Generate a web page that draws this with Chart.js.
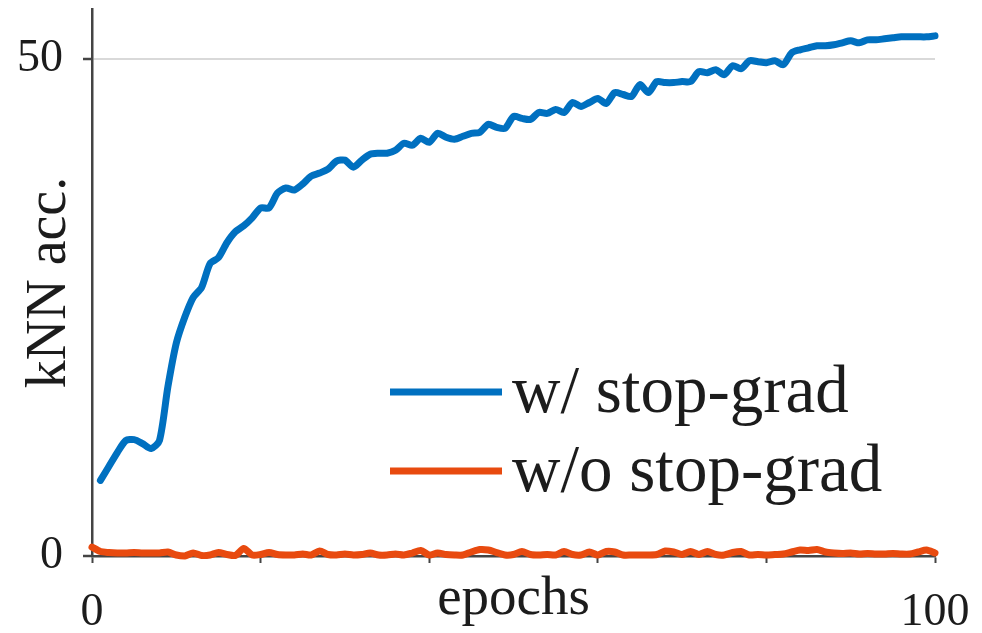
<!DOCTYPE html>
<html>
<head>
<meta charset="utf-8">
<script src="https://cdn.jsdelivr.net/npm/chart.js@4.4.1/dist/chart.umd.min.js"></script>
<style>
  html, body { margin: 0; padding: 0; background: #ffffff; }
  #wrap { width: 982px; height: 633px; position: relative; }
</style>
</head>
<body>
<div id="wrap"><canvas id="knnChart"></canvas></div>
<script>
// kNN accuracy per epoch
const stopGradEpochs = Array.from({ length: 100 }, (_, i) => i + 1)
const stopGradAcc = [
  7.6, 9.0, 10.4, 11.6, 11.7, 11.3, 10.8, 11.6, 17.0, 21.4,
  24.0, 26.0, 27.0, 29.4, 30.0, 31.5, 32.6, 33.2, 34.0, 35.0,
  35.0, 36.5, 37.0, 36.8, 37.4, 38.2, 38.5, 38.9, 39.7, 39.8,
  39.1, 39.8, 40.4, 40.5, 40.5, 40.8, 41.5, 41.3, 42.0, 41.6,
  42.5, 42.1, 41.9, 42.2, 42.5, 42.6, 43.4, 43.1, 43.0, 44.2,
  44.0, 43.9, 44.6, 44.5, 44.9, 44.6, 45.6, 45.2, 45.6, 46.0,
  45.5, 46.6, 46.4, 46.2, 47.4, 46.6, 47.7, 47.6, 47.6, 47.7,
  47.7, 48.7, 48.6, 48.9, 48.4, 49.3, 49.0, 49.8, 49.7, 49.6,
  49.8, 49.4, 50.6, 50.9, 51.1, 51.3, 51.3, 51.4, 51.6, 51.8,
  51.6, 51.9, 51.9, 52.0, 52.1, 52.2, 52.2, 52.2, 52.2, 52.3
]
const noStopGradEpochs = Array.from({ length: 101 }, (_, i) => i)
const noStopGradAcc = [
  0.9, 0.45, 0.35, 0.3, 0.3, 0.35, 0.3, 0.3, 0.3, 0.4,
  0.1, 0.0, 0.3, 0.05, 0.1, 0.35, 0.15, 0.05, 0.75, 0.1,
  0.15, 0.35, 0.15, 0.1, 0.1, 0.2, 0.1, 0.5, 0.15, 0.1,
  0.2, 0.1, 0.15, 0.3, 0.1, 0.1, 0.2, 0.1, 0.3, 0.55,
  0.1, 0.3, 0.15, 0.1, 0.1, 0.4, 0.65, 0.6, 0.35, 0.1,
  0.15, 0.45, 0.15, 0.1, 0.15, 0.1, 0.45, 0.15, 0.1, 0.4,
  0.1, 0.45, 0.4, 0.1, 0.1, 0.1, 0.1, 0.15, 0.5, 0.4,
  0.15, 0.45, 0.15, 0.45, 0.15, 0.1, 0.35, 0.45, 0.1, 0.15,
  0.1, 0.15, 0.2, 0.4, 0.6, 0.55, 0.65, 0.4, 0.3, 0.25,
  0.3, 0.2, 0.25, 0.2, 0.2, 0.25, 0.2, 0.2, 0.4, 0.6,
  0.3
]
const seriesLabels = ["w/ stop-grad", "w/o stop-grad"]
const xTickLabels = [0, 100]
const yTickValues = [0, 50]

const serif = "'Liberation Serif', 'Times New Roman', serif"
const textColor = "#1c1c1c"
const axisColor = "#444444"

const toPoints = (xs, ys) => xs.map((x, i) => ({ x: x, y: ys[i] }))

// legend drawn inside the plot, lower right
const insideLegend = {
  id: "insideLegend",
  afterDraw(chart) {
    const ctx = chart.ctx
    const rows = [392, 471]
    ctx.save()
    chart.data.datasets.forEach((ds, i) => {
      const y = rows[i]
      ctx.strokeStyle = ds.borderColor
      ctx.lineWidth = 7
      ctx.lineCap = "butt"
      ctx.beginPath()
      ctx.moveTo(390, y)
      ctx.lineTo(502, y)
      ctx.stroke()
      ctx.fillStyle = textColor
      ctx.font = "67px " + serif
      ctx.textBaseline = "middle"
      ctx.textAlign = "left"
      ctx.fillText(ds.label, 512, y + 2)
    })
    ctx.restore()
  },
}

new Chart(document.getElementById("knnChart"), {
  type: "line",
  data: {
    datasets: [
      {
        label: seriesLabels[0],
        data: toPoints(stopGradEpochs, stopGradAcc),
        borderColor: "#0070c0",
        borderWidth: 7,
        pointRadius: 0,
        tension: 0.25,
        borderJoinStyle: "round",
        borderCapStyle: "round",
        clip: false,
      },
      {
        label: seriesLabels[1],
        data: toPoints(noStopGradEpochs, noStopGradAcc),
        borderColor: "#e84a0f",
        borderWidth: 7,
        pointRadius: 0,
        tension: 0.25,
        borderJoinStyle: "round",
        borderCapStyle: "round",
        clip: false,
      },
    ],
  },
  options: {
    responsive: true,
    maintainAspectRatio: false,
    animation: false,
    layout: { padding: { top: 9, right: 47, left: 0, bottom: 0 } },
    plugins: {
      legend: { display: false },
      tooltip: { enabled: false },
    },
    scales: {
      x: {
        type: "linear",
        min: 0,
        max: 100,
        afterFit: (scale) => {
          scale.height = 77
          scale.paddingLeft = 0
          scale.paddingRight = 0
        },
        grid: {
          drawOnChartArea: false,
          tickLength: 7,
          tickWidth: 2,
          tickColor: axisColor,
        },
        border: { color: axisColor, width: 2.5 },
        ticks: {
          stepSize: 20,
          autoSkip: false,
          maxRotation: 0,
          padding: 22,
          color: textColor,
          font: { family: serif, size: 46 },
          callback: (v) => (xTickLabels.includes(v) ? String(v) : ""),
        },
        title: {
          display: true,
          text: "epochs",
          color: textColor,
          font: { family: serif, size: 55 },
          padding: 0,
        },
      },
      y: {
        min: 0,
        max: 55,
        afterFit: (scale) => {
          scale.width = 92
          scale.paddingTop = 0
          scale.paddingBottom = 0
        },
        afterBuildTicks: (scale) => {
          scale.ticks = yTickValues.map((v) => ({ value: v }))
        },
        grid: {
          color: (c) => (c.tick && c.tick.value === 50 ? "#d9d9d9" : "rgba(0,0,0,0)"),
          lineWidth: 2,
          tickLength: 9,
          tickWidth: 2.5,
          tickColor: axisColor,
        },
        border: { color: axisColor, width: 2.5 },
        ticks: {
          padding: 20,
          color: textColor,
          font: { family: serif, size: 46 },
        },
        title: {
          display: true,
          text: "kNN acc.",
          color: textColor,
          font: { family: serif, size: 56 },
          padding: { top: 17, bottom: 0 },
        },
      },
    },
  },
  plugins: [insideLegend],
})
</script>
</body>
</html>
